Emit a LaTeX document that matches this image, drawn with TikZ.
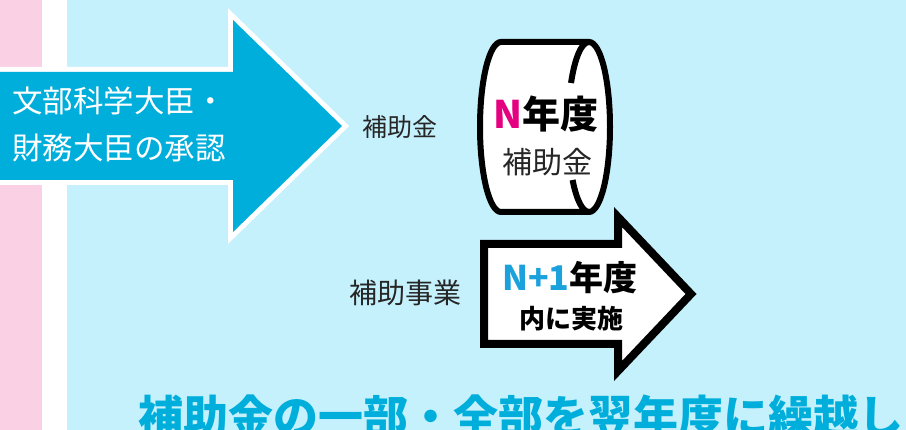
\documentclass[tikz,border=0pt]{standalone}
\usepackage{fontspec}
\setmainfont{Noto Sans CJK JP}
\usetikzlibrary{math}
\definecolor{bgpink}{HTML}{F9D0E4}
\definecolor{bgblue}{HTML}{C5F1FD}
\definecolor{arrblue}{HTML}{00AEDB}
\definecolor{nmag}{HTML}{E4007F}
\definecolor{ncyan}{HTML}{1BA1DB}

\begin{document}
\begin{tikzpicture}[x=1pt, y=-1pt,
  lbl/.style={inner sep=0pt, text=black!85},
  can/.style={line width=6pt, draw=black},
  jisshi/.style={line width=8pt, draw=black, fill=white, line join=miter}]
  % 计算罐子的尺寸与内侧弧的角度
  \tikzmath{
    % 椭圆半轴与中心
    \rx = 21; \ry = 85; \cx = 589; \cy = 127;
    % 内侧弧被文字遮住的部分
    \ta = 180 + asin((\cy - 83)/\ry);
    \tb = 180 - asin((180 - \cy)/\ry);
    \px = \cx + \rx*cos(\tb); \py = \cy + \ry*sin(\tb);
  }

  % 背景
  \useasboundingbox (0,0) rectangle (906,430);
  \fill[white] (0,0) rectangle (906,430);
  \fill[bgpink] (0,0) rectangle (42,430);
  \fill[bgblue] (67,0) rectangle (906,430);

  % 左边的大箭头
  \fill[arrblue, preaction={draw=white, line width=10pt}]
    (-8,72) -- (233,72) -- (233,20) -- (342,126) -- (233,232) -- (233,180) -- (-8,180) -- cycle;
  \node[inner sep=0pt, anchor=west, align=left, text=white,
        font=\fontsize{30.5}{47}\selectfont] (appr) at (12,124)
    {文部科学大臣・\\財務大臣の承認};

  % N年度 补助金（罐子）
  \node[lbl, font=\fontsize{25}{25}\selectfont] (lblhojo) at (400,127) {補助金};
  \draw[can, fill=white] (501,42) -- (\cx,42)
    arc[start angle=-90, end angle=90, x radius=\rx, y radius=\ry]
    -- (501,212) arc[start angle=90, end angle=270, x radius=\rx, y radius=\ry] -- cycle;
  \draw[can] (\cx,42) arc[start angle=270, end angle=\ta, x radius=\rx, y radius=\ry];
  \draw[can] (\px,\py) arc[start angle=\tb, end angle=90, x radius=\rx, y radius=\ry];
  \node[inner sep=0pt, font=\fontsize{38}{38}\bfseries] (nendo) at (546,114)
    {\textcolor{nmag}{N}年度};
  \node[lbl, font=\fontsize{30}{30}\selectfont] (hojokin) at (547,162) {補助金};

  % N+1年度 实施（白色箭头）
  \node[lbl, font=\fontsize{28}{28}\selectfont] (lbljigyo) at (405,293) {補助事業};
  \draw[jisshi] (484,244) -- (618,244) -- (618,217) -- (691,294)
    -- (618,371) -- (618,344) -- (484,344) -- cycle;
  \node[inner sep=0pt, font=\fontsize{34}{34}\bfseries] (nplus) at (570,278)
    {\textcolor{ncyan}{N+1}年度};
  \node[inner sep=0pt, font=\fontsize{26}{26}\bfseries] (naini) at (571,319) {内に実施};

  % 底部标题
  \node[inner sep=0pt, text=arrblue, font=\fontsize{45}{45}\bfseries] (title) at (521,416)
    {補助金の一部・全部を翌年度に繰越し};
\end{tikzpicture}
\end{document}
